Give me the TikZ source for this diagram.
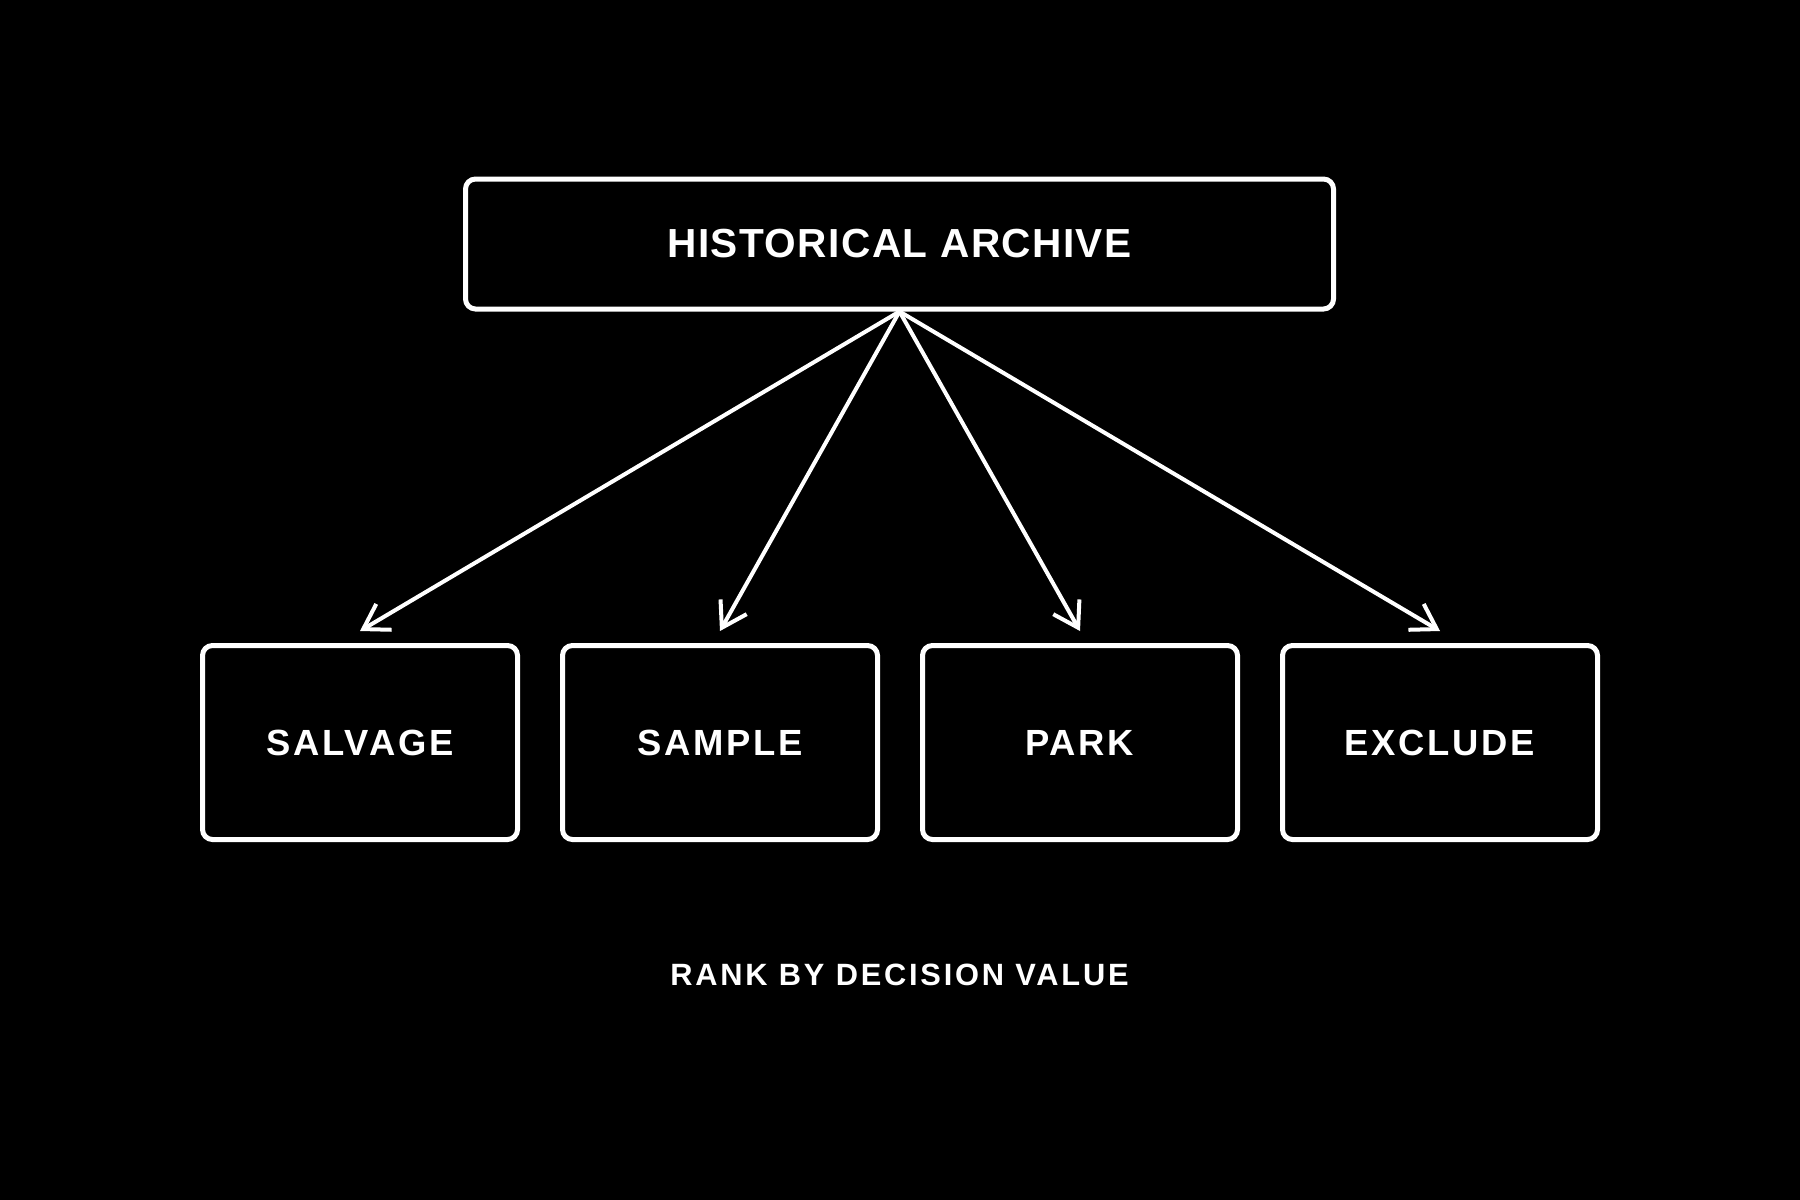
\documentclass[tikz,border=0pt]{standalone}
\usepackage{fontspec}
\setmainfont{Liberation Sans}
\newfontfamily\fonttop[LetterSpace=3.5]{Liberation Sans}
\newfontfamily\fontbox[LetterSpace=7.5]{Liberation Sans}
\newfontfamily\fontcap[LetterSpace=9]{Liberation Sans}
\usetikzlibrary{arrows.meta,calc}
\begin{document}
\begin{tikzpicture}[x=0.5pt,y=-0.5pt,
  box/.style={draw=white,line width=2.5pt,rounded corners=5pt,fill=black,text=white,font=\fontbox\bfseries\fontsize{18.2}{20}\selectfont,inner sep=0pt},
  conn/.style={draw=white,line width=2pt,-{Straight Barb[length=12pt,width=15pt,line width=2pt]}}]
\fill[black] (0,0) rectangle (1800,1200);
\useasboundingbox (0,0) rectangle (1800,1200);
\node[box,minimum width=434pt,minimum height=65pt,font=\fonttop\bfseries\fontsize{20.3}{22}\selectfont] (top) at (899.5,244) {HISTORICAL ARCHIVE};
\node[box,minimum width=157.5pt,minimum height=97pt] (s1) at (360,742.5) {SALVAGE};
\node[box,minimum width=157.5pt,minimum height=97pt] (s2) at (720,742.5) {SAMPLE};
\node[box,minimum width=157.5pt,minimum height=97pt] (s3) at (1080,742.5) {PARK};
\node[box,minimum width=157.5pt,minimum height=97pt] (s4) at (1440,742.5) {EXCLUDE};
\node[text=white,font=\fontcap\bfseries\fontsize{15.4}{17}\selectfont] (cap) at (899.5,975) {RANK BY DECISION VALUE};
\foreach \n in {s1,s2,s3,s4}
  \draw[conn] (top.south) -- ($(\n.north)+(0,-12)$);
\end{tikzpicture}
\end{document}
